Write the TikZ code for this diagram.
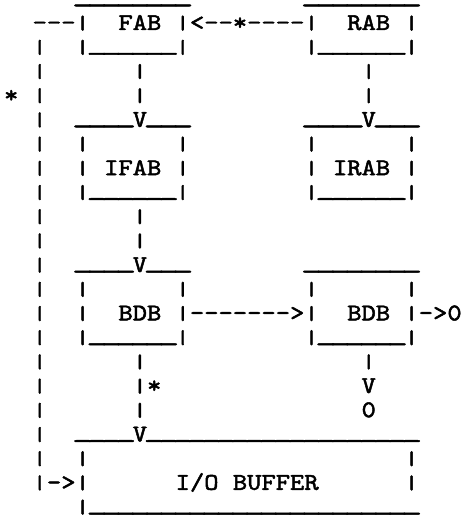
\documentclass[tikz,border=0pt]{standalone}
\usepackage{fontspec}
\usepackage{graphicx}
\setmonofont{lmmono10-regular.otf}[FakeStretch=1.135, FakeBold=2]
\usepackage{tikz}

\newcommand\chrep[2]{\ifnum#1>0 #2\expandafter\chrep\expandafter{\the\numexpr#1-1\relax}{#2}\fi}
\newcommand\sps[1]{\chrep{#1}{~}}
\newcommand\uls[1]{\chrep{#1}{\makebox[14.3pt][c]{\raisebox{3.5pt}{\scalebox{1.45}[1]{\_}}}}}
\newcommand\vb{\raisebox{1pt}{\scalebox{1}[0.8]{|}}}

\begin{document}
\begin{tikzpicture}[x=1pt, y=-1pt,
  ascii/.style={font=\ttfamily\fontsize{24}{24.2}\selectfont, anchor=base west, inner sep=0pt, text=black}]
  \useasboundingbox[fill=white] (0,0) rectangle (462,516);
  % box tops
  \node[ascii] (r0) at (3.85,5.8) {\sps{5}\uls{8}\sps{8}\uls{8}};
  % FAB and RAB
  \node[ascii] (r1) at (3.85,30.0) {\sps{2}---\vb\sps{2}FAB~\vb<--*----\vb\sps{2}RAB~\vb};
  \node[ascii] (r2) at (3.85,54.2) {\sps{2}\vb\sps{2}\vb\uls{6}\vb\sps{8}\vb\uls{6}\vb};
  \node[ascii] (r3) at (3.85,78.4) {\sps{2}\vb\sps{6}\vb\sps{15}\vb};
  \node[ascii] (r4) at (3.85,102.6) {*~\vb\sps{6}\vb\sps{15}\vb};
  % IFAB and IRAB
  \node[ascii] (r5) at (3.85,126.8) {\sps{2}\vb\sps{2}\uls{4}V\uls{3}\sps{8}\uls{4}V\uls{3}};
  \node[ascii] (r6) at (3.85,151.0) {\sps{2}\vb\sps{2}\vb\sps{6}\vb\sps{8}\vb\sps{6}\vb};
  \node[ascii] (r7) at (3.85,175.2) {\sps{2}\vb\sps{2}\vb~IFAB~\vb\sps{8}\vb~IRAB~\vb};
  \node[ascii] (r8) at (3.85,199.4) {\sps{2}\vb\sps{2}\vb\uls{6}\vb\sps{8}\vb\uls{6}\vb};
  \node[ascii] (r9) at (3.85,223.6) {\sps{2}\vb\sps{6}\vb};
  \node[ascii] (r10) at (3.85,247.8) {\sps{2}\vb\sps{6}\vb};
  % the two BDB
  \node[ascii] (r11) at (3.85,272.0) {\sps{2}\vb\sps{2}\uls{4}V\uls{3}\sps{8}\uls{8}};
  \node[ascii] (r12) at (3.85,296.2) {\sps{2}\vb\sps{2}\vb\sps{6}\vb\sps{8}\vb\sps{6}\vb};
  \node[ascii] (r13) at (3.85,320.4) {\sps{2}\vb\sps{2}\vb\sps{2}BDB~\vb------->\vb\sps{2}BDB~\vb->0};
  \node[ascii] (r14) at (3.85,344.6) {\sps{2}\vb\sps{2}\vb\uls{6}\vb\sps{8}\vb\uls{6}\vb};
  \node[ascii] (r15) at (3.85,368.8) {\sps{2}\vb\sps{6}\vb\sps{15}\vb};
  \node[ascii] (r16) at (3.85,393.0) {\sps{2}\vb\sps{6}\vb*\sps{14}V};
  \node[ascii] (r17) at (3.85,417.2) {\sps{2}\vb\sps{6}\vb\sps{15}0};
  % I/O buffer
  \node[ascii] (r18) at (3.85,441.4) {\sps{2}\vb\sps{2}\uls{4}V\uls{19}};
  \node[ascii] (r19) at (3.85,465.6) {\sps{2}\vb\sps{2}\vb\sps{22}\vb};
  \node[ascii] (r20) at (3.85,489.8) {\sps{2}\vb->\vb\sps{6}I/O~BUFFER\sps{6}\vb};
  \node[ascii] (r21) at (3.85,514.0) {\sps{5}\vb\uls{23}};
\end{tikzpicture}
\end{document}
